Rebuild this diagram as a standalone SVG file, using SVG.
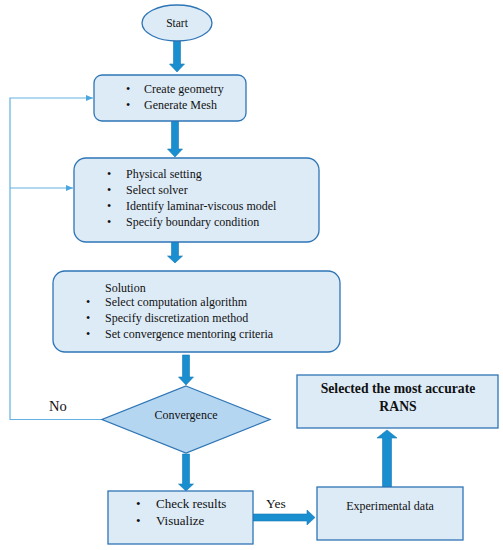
<svg xmlns="http://www.w3.org/2000/svg" width="503" height="550" viewBox="0 0 503 550">
<style>
.n{fill:#ddebf7;stroke:#2e75b6;stroke-width:1.3}
.d{fill:#b5d6f0;stroke:#2e75b6;stroke-width:1.3}
.t{font-family:"Liberation Serif",serif;font-size:12px;fill:#111}
.ts{font-family:"Liberation Serif",serif;font-size:11.5px;fill:#111}
.tl{font-family:"Liberation Serif",serif;font-size:13px;fill:#111}
.tb{font-family:"Liberation Serif",serif;font-size:13.7px;font-weight:bold;fill:#111}
.a{fill:#1a8fd0;stroke:#1778b5;stroke-width:0.6}
.fb{fill:none;stroke:#62b1e3;stroke-width:1.2}
</style>
<defs>
<marker id="ah" markerWidth="8" markerHeight="8" refX="7" refY="4" orient="auto" markerUnits="userSpaceOnUse">
<path d="M0,1 L7,4 L0,7 Z" fill="#4aa6df"/>
</marker>
</defs>
<rect width="503" height="550" fill="#fff"/>
<g id="connectors">
<path class="a" d="M173.5,41 H180.5 V64 H184.5 L177,72 L169.5,64 H173.5 Z"/>
<path class="a" d="M171.5,121 H178.5 V149 H182.5 L175,157 L167.5,149 H171.5 Z"/>
<path class="a" d="M171.5,242 H178.5 V256 H182.5 L175,263 L167.5,256 H171.5 Z"/>
<path class="a" d="M182.5,355 H189.5 V377 H193.5 L186,385 L178.5,377 H182.5 Z"/>
<path class="a" d="M182.5,454 H189.5 V484 H193.5 L186,491 L178.5,484 H182.5 Z"/>
<path class="a" d="M253,514 H307 V510 L315,517.5 L307,525 V521 H253 Z"/>
<path class="a" d="M382.5,487 V438 H377 L387,430 L397,438 H391.5 V487 Z"/>
<path class="fb" d="M102,419.5 H10 V98 H93" marker-end="url(#ah)"/>
<path class="fb" d="M10,188 H73" marker-end="url(#ah)"/>
<text class="tl" x="49" y="411" style="font-size:14.5px">No</text>
<text class="tl" x="266" y="508" style="font-size:13.5px">Yes</text>
</g>
<g id="start">
<ellipse class="n" cx="177" cy="23" rx="35" ry="18"/>
<text class="ts" x="177" y="27" text-anchor="middle">Start</text>
</g>
<g id="geometry">
<rect class="n" x="94" y="75" width="152" height="46" rx="8"/>
<text class="t" x="126" y="93">•</text><text class="t" x="144" y="93">Create geometry</text>
<text class="t" x="126" y="109">•</text><text class="t" x="144" y="109">Generate Mesh</text>
</g>
<g id="physical">
<rect class="n" x="74" y="158" width="245" height="84" rx="12"/>
<text class="t" x="107" y="178">•</text><text class="t" x="126" y="178">Physical setting</text>
<text class="t" x="107" y="194">•</text><text class="t" x="126" y="194">Select solver</text>
<text class="t" x="107" y="210">•</text><text class="t" x="126" y="210">Identify laminar-viscous model</text>
<text class="t" x="107" y="226">•</text><text class="t" x="126" y="226">Specify boundary condition</text>
</g>
<g id="solution">
<rect class="n" x="53" y="271" width="287" height="81" rx="12"/>
<text class="t" x="105" y="292">Solution</text>
<text class="t" x="86" y="306">•</text><text class="t" x="105" y="306">Select computation algorithm</text>
<text class="t" x="86" y="322">•</text><text class="t" x="105" y="322">Specify discretization method</text>
<text class="t" x="86" y="338">•</text><text class="t" x="105" y="338">Set convergence mentoring criteria</text>
</g>
<g id="convergence">
<polygon class="d" points="186,386 270,419.5 186,453 102,419.5"/>
<text class="t" x="186" y="419" text-anchor="middle">Convergence</text>
</g>
<g id="check">
<rect class="n" x="108" y="491" width="145" height="53"/>
<text class="tl" x="136" y="508">•</text><text class="tl" x="156" y="508">Check results</text>
<text class="tl" x="136" y="525">•</text><text class="tl" x="156" y="525">Visualize</text>
</g>
<g id="experimental">
<rect class="n" x="317" y="487" width="146" height="53"/>
<text class="t" x="390" y="510" text-anchor="middle">Experimental data</text>
</g>
<g id="selected">
<rect class="n" x="297" y="375" width="201" height="53"/>
<text class="tb" x="398" y="393" text-anchor="middle">Selected the most accurate</text>
<text class="tb" x="398" y="411" text-anchor="middle">RANS</text>
</g>
</svg>
